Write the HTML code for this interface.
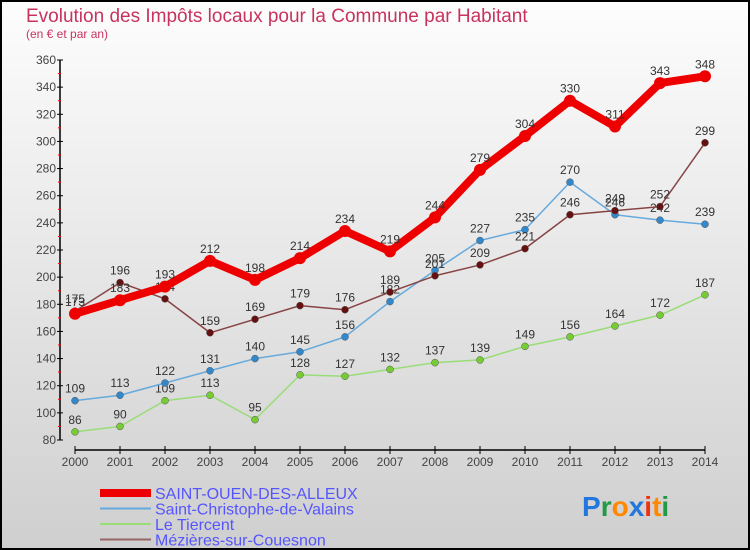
<!DOCTYPE html>
<html><head><meta charset="utf-8"><style>
body{margin:0}
#c{width:750px;height:550px;position:relative;box-sizing:border-box;border:2px solid #000;background:linear-gradient(#fdfdfd,#cfcfcf);font-family:"Liberation Sans",sans-serif;overflow:hidden}
</style></head><body>
<div id="c">
<svg id="s" width="750" height="550" style="position:absolute;left:-2px;top:-2px">
<text x="26" y="22" font-size="19" fill="#c8335e">Evolution des Impôts locaux pour la Commune par Habitant</text>
<text x="26" y="38" font-size="12" fill="#c8335e">(en € et par an)</text>
<g id="g"></g>
</svg>
</div>
<script>
const years=[2000,2001,2002,2003,2004,2005,2006,2007,2008,2009,2010,2011,2012,2013,2014];
const saintOuen=[173,183,193,212,198,214,234,219,244,279,304,330,311,343,348];
const saintChristophe=[109,113,122,131,140,145,156,182,205,227,235,270,246,242,239];
const leTiercent=[86,90,109,113,95,128,127,132,137,139,149,156,164,172,187];
const mezieres=[175,196,184,159,169,179,176,189,201,209,221,246,249,252,299];
const yTicks=[80,100,120,140,160,180,200,220,240,260,280,300,320,340,360];
const NS='http://www.w3.org/2000/svg';
const g=document.getElementById('g');
const X=i=>75+i*45;
const Y=v=>440-(v-80)*380/280;
function el(t,a,p){const e=document.createElementNS(NS,t);for(const k in a)e.setAttribute(k,a[k]);(p||g).appendChild(e);return e;}
let e=el('line',{x1:60,y1:60,x2:60,y2:440,stroke:'#000','stroke-width':1.5});


yTicks.forEach((v,i)=>{
 el('line',{x1:57,x2:63,y1:Y(v),y2:Y(v),stroke:'#000'});
 if(i<yTicks.length-1)el('line',{x1:58,x2:61,y1:Y(v+10),y2:Y(v+10),stroke:'#f00'});
 const t=el('text',{x:56,y:Y(v)+4,'text-anchor':'end','font-size':12,fill:'#444'});t.textContent=v;
 
 
});
e=el('line',{x1:75,y1:450,x2:X(years.length-1),y2:450,stroke:'#000','stroke-width':1.5});


years.forEach((y,i)=>{
 el('line',{x1:X(i),x2:X(i),y1:446,y2:454,stroke:'#000'});
 const t=el('text',{x:X(i),y:466,'text-anchor':'middle','font-size':12,fill:'#444'});t.textContent=y;
 
 
});
const series=[
 {d:leTiercent,c:'#99dd77',f:'#77cc33',w:1.5,r:3.5,n:'le-tiercent'},
 {d:saintChristophe,c:'#66aadd',f:'#3388cc',w:1.5,r:3.5,n:'saint-christophe'},
 {d:mezieres,c:'#884444',f:'#661111',w:1.5,r:3.5,n:'mezieres'},
 {d:saintOuen,c:'#ee0000',f:'#ee0000',w:8,r:6,n:'saint-ouen'}];
series.forEach(s=>{
 const p=el('polyline',{points:s.d.map((v,i)=>X(i)+','+Y(v)).join(' '),fill:'none',stroke:s.c,'stroke-width':s.w,'stroke-linejoin':'round'});
 
 
 s.d.forEach((v,i)=>{
  const c=el('circle',{cx:X(i),cy:Y(v),r:s.r,fill:s.f,stroke:s.w>2?'none':'#555','stroke-width':0.5});
  
  
  const t=el('text',{x:X(i),y:Y(v)-8,'text-anchor':'middle','font-size':12,fill:'#333'});t.textContent=v;
  
  
 });
});
const leg=[['SAINT-OUEN-DES-ALLEUX','#ee0000',8],['Saint-Christophe-de-Valains','#66aadd',2],['Le Tiercent','#99dd77',2],['Mézières-sur-Couesnon','#996666',2]];
leg.forEach((l,i)=>{
 const y=493+i*15.5;
 const ln=el('line',{x1:100,x2:151,y1:y,y2:y,stroke:l[1],'stroke-width':l[2]});
 
 
 const t=el('text',{x:155,y:y+6,'font-size':16,fill:'#5555ff'});t.textContent=l[0];
 
 
});
const logo=el('text',{x:582,y:516,'font-size':28,'font-weight':'bold'});


[['P','#2277dd'],['r','#229944'],['o','#ff8800'],['x','#2277dd'],['i','#ee3311'],['t','#ff8800'],['i','#229944']].forEach(a=>{const s=el('tspan',{fill:a[1]},logo);s.textContent=a[0];});
</script>
</body></html>
